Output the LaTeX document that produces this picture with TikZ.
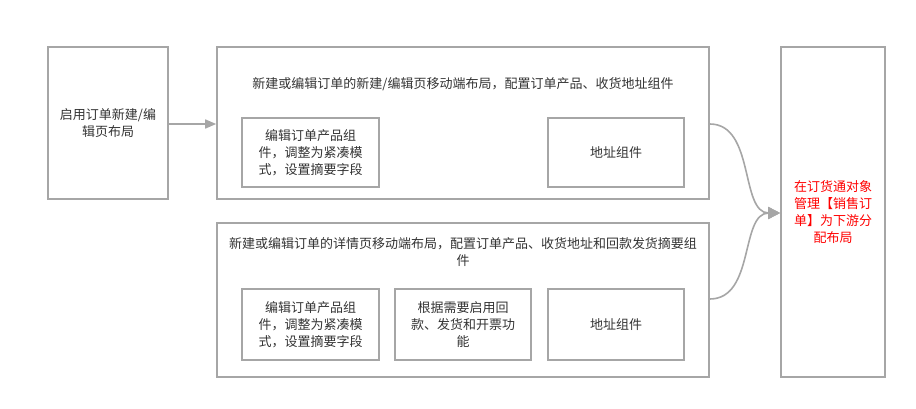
\documentclass[tikz,border=0pt]{standalone}
\usepackage{fontspec}
\setmainfont{Noto Sans CJK SC}
\usetikzlibrary{arrows.meta}
\definecolor{bd}{HTML}{A6A6A6}
\definecolor{tx}{HTML}{333333}
\begin{document}
\begin{tikzpicture}[x=1pt,y=-1pt,
  box/.style={draw=bd,line width=1.6pt,inner sep=0pt,align=center,text=tx,font=\fontsize{13}{17}\selectfont},
  lbl/.style={inner sep=0pt,align=center,text=tx,font=\fontsize{13}{17}\selectfont},
  conn/.style={draw=bd,line width=1.6pt,-{Triangle[length=12pt,width=12pt]}}]
\useasboundingbox (0,0) rectangle (916,409);
\node[box,minimum width=120pt,minimum height=152pt] (a) at (108,123) {启用订单新建/编\\辑页布局};
\node[box,minimum width=492pt,minimum height=152pt] (b) at (463,123) {};
\node[lbl] (bt) at (463,84) {新建或编辑订单的新建/编辑页移动端布局，配置订单产品、收货地址组件};
\node[box,minimum width=137pt,minimum height=69pt] (b1) at (310.5,152.5) {编辑订单产品组\\件，调整为紧凑模\\式，设置摘要字段};
\node[box,minimum width=136pt,minimum height=69pt] (b2) at (616,152.5) {地址组件};
\node[box,minimum width=492pt,minimum height=154pt] (c) at (463,300) {};
\node[lbl] (ct) at (463,252.5) {新建或编辑订单的详情页移动端布局，配置订单产品、收货地址和回款发货摘要组\\件};
\node[box,minimum width=137pt,minimum height=71pt] (c1) at (310.5,324.5) {编辑订单产品组\\件，调整为紧凑模\\式，设置摘要字段};
\node[box,minimum width=136pt,minimum height=71pt] (c2) at (463,324.5) {根据需要启用回\\款、发货和开票功\\能};
\node[box,minimum width=136pt,minimum height=71pt] (c3) at (616,324.5) {地址组件};
\node[box,minimum width=104pt,minimum height=330pt,text=red] (d) at (833,212) {在订货通对象\\管理【销售订\\单】为下游分\\配布局};
\draw[conn,-{Triangle[length=11pt,width=9pt]}] (a.east |- 0,124) -- (b.west |- 0,124);
\draw[conn] (b.east |- 0,124) .. controls (755,124) and (740,213) .. (d.west |- 0,213);
\draw[conn] (c.east |- 0,299) .. controls (755,299) and (740,213) .. (d.west |- 0,213);
\end{tikzpicture}
\end{document}
